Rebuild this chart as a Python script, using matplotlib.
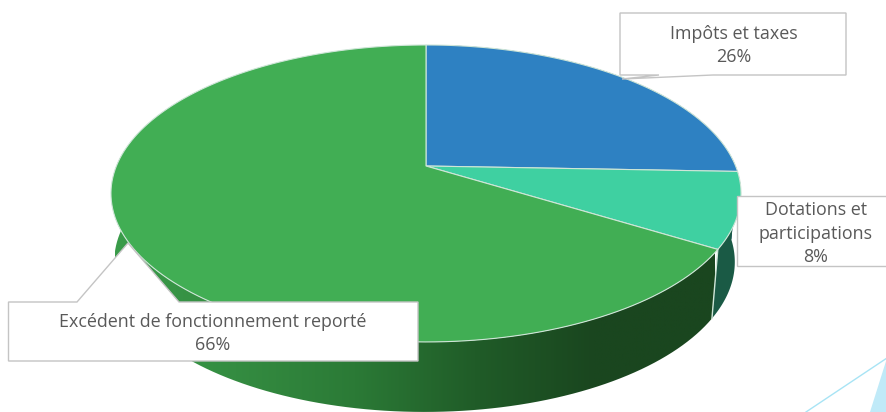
"""3D style pie chart with callout labels, drawn on a pixel sized axes."""
import numpy as np
import matplotlib
matplotlib.use('Agg')
import matplotlib.pyplot as plt
from matplotlib.colors import LinearSegmentedColormap
from matplotlib.patches import Polygon

labels = ['Impôts et taxes', 'Dotations et\nparticipations', 'Excédent de fonctionnement reporté']
shares = [25.6, 8.2, 66.2]
top_colors = ['#2e81c2', '#3fd0a1', '#41ae54']
side_colors = ['#1c4f78', '#1a5a45', None]
side_stops = ['#3a9c4a', '#348c41', '#2b7a36', '#205c28', '#1a461f', '#1a461f']

W, H = 887, 412
CX, CY = 426, 166
PERSP = 0.185
RX, RY = 309.6, 143.4
EDGE = '#cfe6d8'
BOX = '#c4c4c4'
TEXT = '#595959'


def top_point(theta):
    # perspective view of the unit circle, theta clockwise from 12 o'clock
    u, v = np.sin(theta), np.cos(theta)
    w = 1 + PERSP * v
    return CX + RX * u / w, CY - RY * v / w


def bottom_point(theta):
    x, y = top_point(theta)
    return 424 + 0.985 * (x - 425.5), 262 + 1.01 * (y - 193.5)


def arc(func, a, b):
    x, y = func(np.linspace(a, b, 160))
    return np.column_stack([x, y])


fig = plt.figure(figsize=(W / 100, H / 100), dpi=100)
ax = fig.add_axes([0, 0, 1, 1])

edges = 2 * np.pi * np.cumsum([0] + shares) / sum(shares)

# sides first, the top faces cover whatever is behind
for i in range(len(shares)):
    a, b = edges[i], edges[i + 1]
    side = np.vstack([arc(top_point, a, b), arc(bottom_point, a, b)[::-1]])
    if side_colors[i]:
        ax.add_patch(Polygon(side, closed=True, fc=side_colors[i], ec='none', zorder=2))
    else:
        cmap = LinearSegmentedColormap.from_list('side', side_stops)
        grad = np.linspace(0, 1, 256).reshape(1, -1)
        im = ax.imshow(grad, cmap=cmap, extent=[115, 715, H, 150], aspect='auto', zorder=2)
        clip = Polygon(side, closed=True, transform=ax.transData)
        im.set_clip_path(clip)

# light line where two sides meet
div = edges[2]
ax.plot(*zip(top_point(div), bottom_point(div)), color=EDGE, lw=1, zorder=3)

for i in range(len(shares)):
    pts = np.vstack([[CX, CY], arc(top_point, edges[i], edges[i + 1])])
    ax.add_patch(Polygon(pts, closed=True, fc=top_colors[i], ec=EDGE, lw=0.8, zorder=4))

# decoration in the lower right corner
ax.add_patch(Polygon([(870, 412), (887, 358), (887, 412)], closed=True, fc='#c0eaf8', ec='none', zorder=1))
ax.plot([806, 887], [412, 358], color='#a8e4f5', lw=1, zorder=1)

callouts = [
    [(620, 13), (846, 13), (846, 75), (713, 75), (622, 79), (659, 75), (620, 75)],
    [(737, 196), (890, 196), (890, 266), (737, 266)],
    [(8.5, 302), (77, 302), (128, 243), (179, 302), (418, 302), (418, 361), (8.5, 361)],
]
for pts in callouts:
    ax.add_patch(Polygon(pts, closed=True, fc='white', ec=BOX, lw=1, zorder=5))

font = dict(family='Open Sans', fontsize=12.85, color=TEXT, ha='center', va='center',
            linespacing=1.42, zorder=6)
ax.text(733.5, 45.5, f'{labels[0]}\n{round(shares[0])}%', **font)
ax.text(816, 233.5, f'{labels[1]}\n{round(shares[1])}%', **font)
ax.text(213, 333.5, f'{labels[2]}\n{round(shares[2])}%', **font)

ax.set_xlim(0, W)
ax.set_ylim(H, 0)
ax.axis('off')
fig.savefig('out.png', dpi=100)
plt.close(fig)
